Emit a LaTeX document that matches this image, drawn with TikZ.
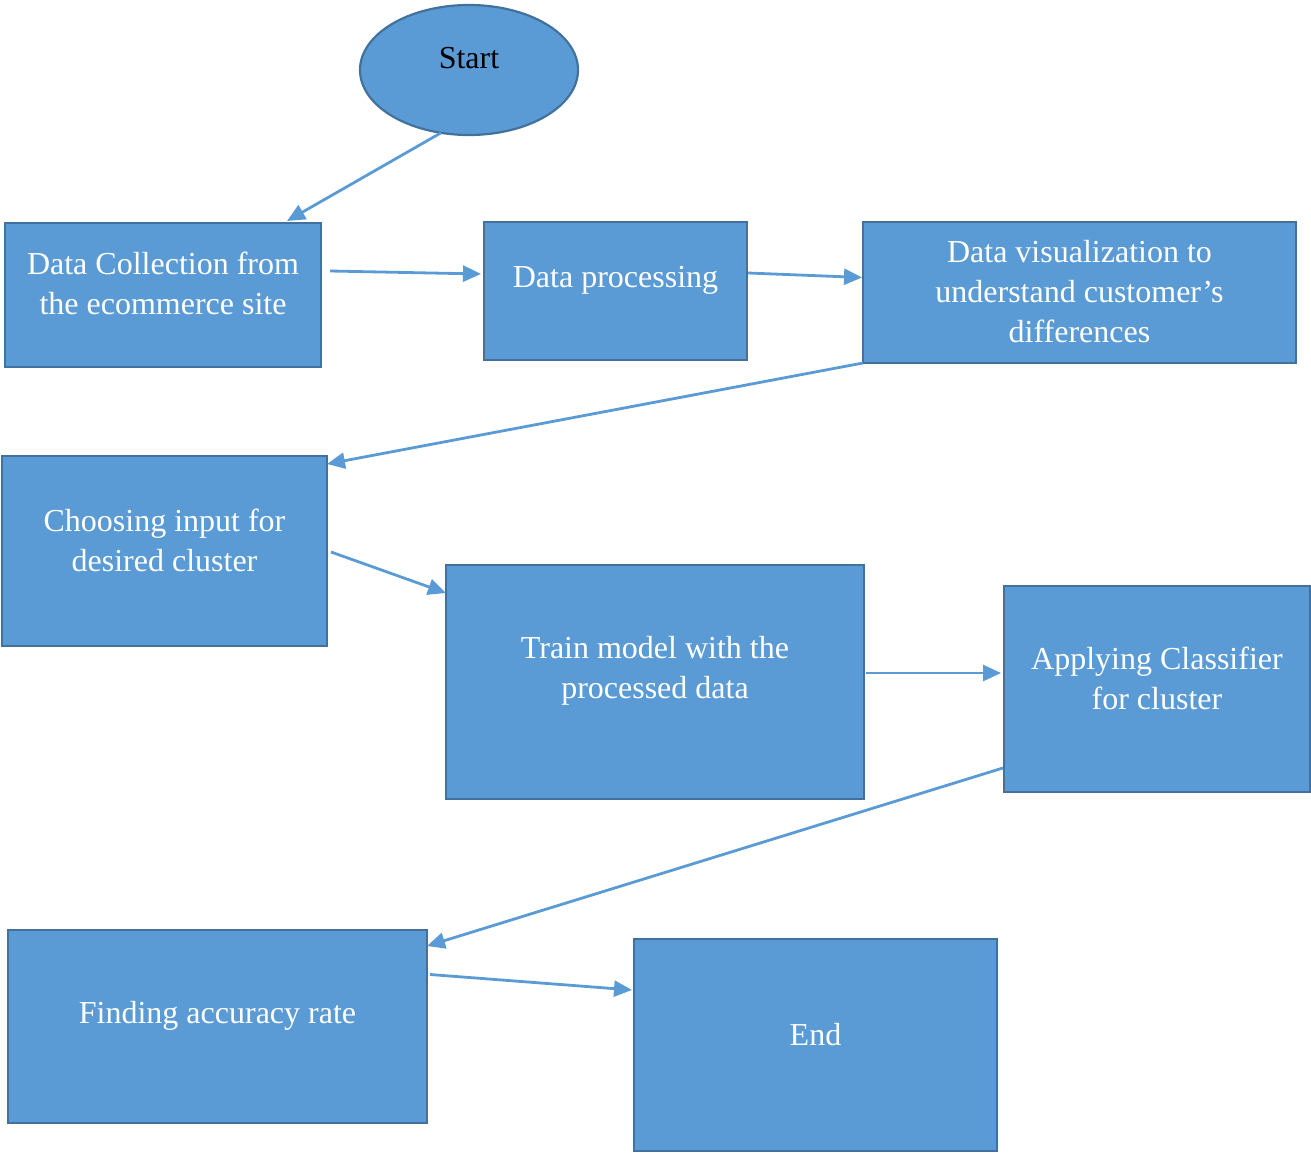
\documentclass[tikz,border=0pt]{standalone}
\usepackage{fontspec}
\setmainfont{Liberation Serif}
\usepackage{tikz}
\usetikzlibrary{arrows.meta, shapes.geometric, calc, positioning}
\definecolor{boxfill}{HTML}{5B9BD5}
\definecolor{boxline}{HTML}{41719C}

\begin{document}
\begin{tikzpicture}[x=0.5pt,y=-0.5pt,
    box/.style={draw=boxline, fill=boxfill, line width=1.1pt, outer sep=0pt, inner sep=0pt},
    txt/.style={text=white, align=center, font=\fontsize{16}{20}\selectfont, inner sep=0pt},
    flow/.style={draw=boxfill, line width=1.4pt, -{Triangle[length=9pt,width=8pt]}}]

        % Khung hình
        \useasboundingbox (0,0) rectangle (1311,1154);

        % Nút bắt đầu
        \node[box, ellipse, minimum width=109pt, minimum height=65pt] (start) at (469,70) {};
        \node[txt, text=black] at (469,58) {Start};

        % Các hộp
        \node[box, minimum width=158pt, minimum height=72pt] (collect) at (163,295) {};
        \node[txt] at (163,283) {Data Collection from\\the ecommerce site};

        \node[box, minimum width=131.5pt, minimum height=69pt] (process) at (615.5,291) {};
        \node[txt] at (615.5,280) {Data processing};

        \node[box, minimum width=216.5pt, minimum height=70.5pt] (visual) at (1079.5,292.5) {};
        \node[txt] at (1079.5,292) {Data visualization to\\understand customer’s\\differences};

        \node[box, minimum width=162.5pt, minimum height=95pt] (input) at (164.5,551) {};
        \node[txt] at (164.5,540) {Choosing input for\\desired cluster};

        \node[box, minimum width=209pt, minimum height=117pt] (train) at (655,682) {};
        \node[txt] at (655,671) {Train model with the\\processed data};

        \node[box, minimum width=153pt, minimum height=103pt] (classify) at (1157,689) {};
        \node[txt] at (1157,678) {Applying Classifier\\for cluster};

        \node[box, minimum width=209.5pt, minimum height=96.5pt] (accuracy) at (217.5,1026.5) {};
        \node[txt] at (217.5,1016) {Finding accuracy rate};

        \node[box, minimum width=181.5pt, minimum height=106pt] (finish) at (815.5,1045) {};
        \node[txt] at (815.5,1035) {End};

        % Các mũi tên
        \draw[flow] (start.246) -- ($(collect.north)+(124,-2)$);
        \draw[flow] ($(collect.east)+(9,-24)$) -- ($(process.west)+(-3,-17)$);
        \draw[flow] ($(process.east)+(1,-18)$) -- ($(visual.west)+(-1,-15)$);
        \draw[flow] (visual.south west) -- ($(input.north east)+(0,8)$);
        \draw[flow] ($(input.east)+(4,1)$) -- ($(train.north west)+(0,28)$);
        \draw[flow] ($(train.east)+(2,-9)$) -- ($(classify.west)+(-3,-16)$);
        \draw[flow] ($(classify.west)+(-1,79)$) -- ($(accuracy.north east)+(0,16)$);
        \draw[flow] ($(accuracy.east)+(3,-52)$) -- ($(finish.west)+(-2,-55)$);

\end{tikzpicture}
\end{document}
